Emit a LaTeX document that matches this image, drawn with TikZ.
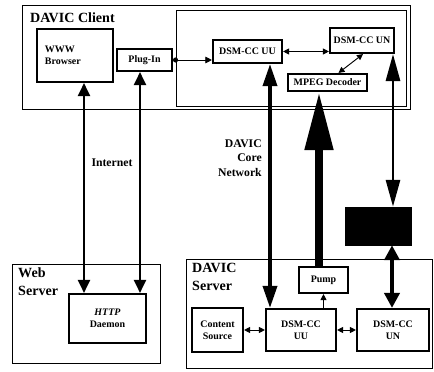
\documentclass[tikz,border=0pt]{standalone}
\usepackage{fontspec}
\setmainfont{Liberation Serif}
\usetikzlibrary{arrows.meta}

\begin{document}
\begin{tikzpicture}[x=0.03cm, y=-0.03cm,
    frame/.style={rectangle, draw, line width=0.6pt, inner sep=0pt},
    box/.style={rectangle, draw, line width=1.8pt, align=center, inner sep=1pt, font=\fontsize{8.5}{10}\selectfont\bfseries},
    lbl/.style={align=left, inner sep=0pt, font=\fontsize{12}{15}\selectfont\bfseries},
    note/.style={inner sep=0pt, font=\fontsize{10}{12.5}\selectfont\bfseries},
    small/.style={{Triangle[length=0.18cm,width=0.18cm]}-{Triangle[length=0.18cm,width=0.18cm]}, line width=0.8pt},
    net/.style={{Triangle[length=0.39cm,width=0.36cm]}-{Triangle[length=0.39cm,width=0.36cm]}, line width=1.7pt}
]
\useasboundingbox (0,0) rectangle (434,372);
% Client side
\node[frame, minimum width=11.64cm, minimum height=3.12cm] (client) at (216,57) {};
\node[frame, line width=0.7pt, minimum width=6.9cm, minimum height=2.88cm] (clientin) at (291,58) {};
\node[lbl, anchor=west] (clientlbl) at (30,18) {DAVIC Client};
\node[box, minimum width=2.28cm, minimum height=1.59cm, text width=1.8cm, align=left] (browser) at (75,55.5) {WWW\\Browser};
\node[box, minimum width=1.65cm, minimum height=0.66cm] (plugin) at (144.5,60) {Plug-In};
\node[box, minimum width=2.07cm, minimum height=0.69cm] (uuC) at (247.5,51.5) {DSM-CC UU};
\node[box, minimum width=1.92cm, minimum height=0.75cm] (unC) at (362,40.5) {DSM-CC UN};
\node[box, minimum width=2.37cm, minimum height=0.51cm] (mpeg) at (327.5,82.5) {MPEG Decoder};
% Web server
\node[frame, minimum width=4.44cm, minimum height=2.97cm] (web) at (86,313.5) {};
\node[lbl, anchor=north west] (weblbl) at (18,268) {Web\\Server};
\node[box, minimum width=2.31cm, minimum height=1.47cm] (http) at (107.5,318.5) {\textit{HTTP}\\Daemon};
% DAVIC server
\node[frame, minimum width=7.38cm, minimum height=3.27cm] (server) at (309,313.5) {};
\node[lbl, anchor=north west] (serverlbl) at (192,263) {DAVIC\\Server};
\node[box, minimum width=1.53cm, minimum height=1.32cm] (content) at (217.5,330) {Content\\Source};
\node[box, minimum width=2.1cm, minimum height=1.26cm] (uuS) at (301,330) {DSM-CC\\UU};
\node[box, minimum width=2.16cm, minimum height=1.26cm] (unS) at (393,330) {DSM-CC\\UN};
\node[box, minimum width=1.47cm, minimum height=0.78cm] (pump) at (323.5,280) {Pump};
\node[draw, fill=black, minimum width=1.98cm, minimum height=1.14cm] (black) at (378,226) {};
% Labels
\node[note] (inet) at (112,163) {Internet};
\node[note, align=right, anchor=east] (core) at (262,158) {DAVIC\\Core\\Network};
% Columns of the long links
\coordinate (ia) at (84,0);
\coordinate (ib) at (140,0);
\coordinate (ua) at (270,0);
\coordinate (ma) at (319,0);
\coordinate (na) at (393,0);
% Internet links
\draw[net] (browser.south -| ia) -- (http.north -| ia);
\draw[net] (plugin.south -| ib) -- (http.north -| ib);
% Inside the client
\draw[{Circle[length=0.15cm]}-{Triangle[length=0.2cm,width=0.2cm]}, line width=0.8pt] (plugin.east) -- (plugin.east -| uuC.west);
\draw[small] (uuC.east) -- (uuC.east -| unC.west);
\draw[small] ([xshift=0.33cm]mpeg.north) -- ([xshift=0.03cm]unC.south);
% Core network links
\draw[{Triangle[length=0.66cm,width=0.42cm]}-{Triangle[length=0.66cm,width=0.42cm]}, line width=3pt] (uuC.south -| ua) -- (uuS.north -| ua);
\draw[-{Triangle[length=1.74cm,width=0.81cm]}, line width=6.8pt] (pump.north -| ma) -- (mpeg.south -| ma);
\draw[{Triangle[length=0.81cm,width=0.42cm]}-{Triangle[length=0.81cm,width=0.42cm]}, line width=2.5pt] (unC.south -| na) -- (black.north -| na);
\draw[{Triangle[length=0.45cm,width=0.45cm]}-{Triangle[length=0.45cm,width=0.45cm]}, line width=3.4pt] ([xshift=-0.03cm]black.south -| na) -- ([xshift=-0.03cm]unS.north -| na);
% Inside the server
\draw[small] (content.east) -- (uuS.west);
\draw[small] (uuS.east) -- (unS.west);
\draw[-{Triangle[length=0.18cm,width=0.18cm]}, line width=0.8pt] (uuS.north -| pump.south) -- (pump.south);
\end{tikzpicture}
\end{document}
